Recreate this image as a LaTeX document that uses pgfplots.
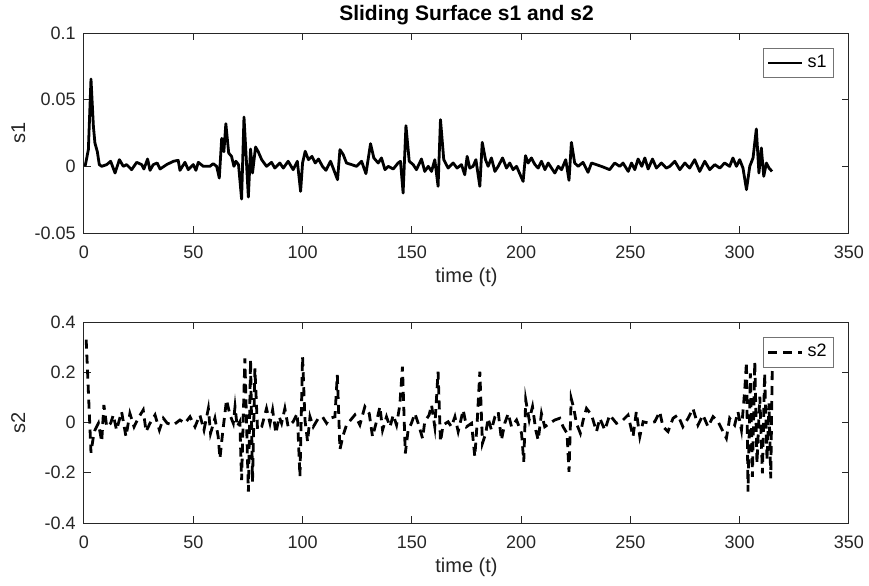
\documentclass[border=0pt]{standalone}
\usepackage{fontspec}
\setmainfont{Liberation Sans}
\usepackage{pgfplots}
\pgfplotsset{compat=1.18}
\definecolor{axgray}{RGB}{38,38,38}
\pgfplotsset{
 mystyle/.style={
  width=382.5pt, scale only axis,
  xmin=0, xmax=350,
  xtick={0,50,100,150,200,250,300,350},
  xticklabels={0,50,100,150,200,250,300,350},
  tick align=inside, major tick length=3.5pt,
  axis line style={axgray, line width=0.5pt},
  every tick/.style={axgray, line width=0.5pt},
  tick label style={font=\fontsize{9}{10}\selectfont, text=axgray},
  xticklabel style={anchor=base, yshift=-12.5pt, inner sep=0pt},
  yticklabel style={anchor=east, xshift=-4pt, inner sep=0pt},
  label style={font=\fontsize{10}{12}\selectfont, text=axgray},
  xlabel={time (t)},
  legend style={font=\fontsize{9}{10}\selectfont, draw=black!55, at={(1,1)}, anchor=north east, xshift=-7.5pt, yshift=-7.5pt, inner xsep=1.5pt, inner ysep=1.5pt, legend cell align=left},
  scaled ticks=false,
 }
}
\begin{document}
\begin{tikzpicture}
\path[use as bounding box] (-42pt,-176pt) rectangle (392.5pt,116.5pt);
\begin{axis}[mystyle, at={(0,0)}, anchor=south west, height=100pt,
  ymin=-0.05, ymax=0.1, ytick={-0.05,0,0.05,0.1}, yticklabels={-0.05,0,0.05,0.1},
  ylabel={s1}, title={Sliding Surface s1 and s2},
  title style={at={(axis description cs:0.5,1.005)}, anchor=base, font=\bfseries\fontsize{10.5}{12}\selectfont, inner sep=0pt},
  xlabel style={at={(axis description cs:0.5,-0.245)}, anchor=base},
  ylabel style={at={(axis description cs:-0.0771,0.5)}, anchor=base}]
\addplot[black, line width=1.4pt, line join=round] coordinates {
(0.5,0) (2,0.0125) (3.2,0.0655) (4.3,0.03) (5,0.0175) (6.1,0.011) (7,0.0013) (8.1,0)
(10.4,0.0013) (12.2,0.0038) (14.2,-0.005) (16.2,0.005) (18,0) (19.5,0.0013) (21.8,-0.0025)
(24.1,0.003) (26.4,0.0013) (27.4,-0.002) (29.1,0.0055) (30.2,-0.003) (31.7,0.0013) (33.5,0.0025)
(34.8,-0.002) (37.8,0.0013) (40.9,0.0038) (43.1,0.0045) (43.9,-0.003) (46.2,0.003) (47.7,-0.0025)
(50,0.0013) (51.2,-0.003) (52.3,0.003) (54.6,0) (57.6,0) (59.1,0.002) (60.7,0) (61.9,-0.0088)
(63,0.021) (64,0.011) (64.9,0.032) (66.2,0.01) (67.5,0.0075) (68.6,0) (69.5,0.0038) (70.7,0.0013)
(72.1,-0.0245) (73.2,0.037) (75.2,-0.023) (76.2,0.013) (77.1,-0.005) (78.5,0.0145) (79.7,0.011)
(81.3,0.005) (83.5,0) (85.8,0.003) (87.3,-0.0013) (89.6,0.0025) (91.2,-0.0013) (93.4,0.0038)
(95.7,-0.0025) (97.6,0.0038) (99.1,-0.0188) (100,0.0025) (101.2,0.0113) (102.7,0.005) (104.3,0.0075)
(105.8,0.0025) (107.3,0.0055) (109.1,0) (110.7,-0.003) (112.8,0.0038) (116,-0.01) (117.1,0.0125)
(118.6,0.0088) (120.1,0.0025) (122.4,0.0013) (124.7,0) (127,0.0038) (129,-0.0055) (131.1,0.017)
(132.6,0.0063) (134.6,0.0025) (136.1,0.0063) (137.7,-0.0025) (139.2,0) (141.5,-0.002) (143.7,0.0025)
(144.8,0.0038) (146,-0.02) (147.3,0.0305) (148.8,0.0038) (150.6,0.0013) (152.1,-0.0025) (154.4,0.0055)
(155.9,-0.0038) (157.5,0) (159,-0.0038) (160.5,0.005) (162,-0.015) (163.1,0.035) (164.6,0.005)
(166.6,-0.0013) (168.9,0.0025) (170.7,-0.0013) (172.7,0.0013) (174.2,-0.0063) (175.3,0.0075)
(176.5,-0.0013) (178,0) (179.3,0.005) (181.1,-0.015) (182.2,0.018) (183.7,0.005) (184.9,0)
(186.4,0.0063) (188,-0.0038) (189.5,0) (191.5,0.0063) (193.3,-0.0013) (194.8,0.0025) (196.3,-0.0025)
(197.9,0) (200.9,-0.0113) (202,0.008) (203.2,0.0025) (204.7,0.0063) (206.3,0.0013) (207.8,-0.0013)
(209.3,0.0038) (210.9,-0.0025) (212.4,0.0025) (213.9,-0.0013) (215.4,-0.005) (217,0) (218.5,-0.0025)
(220.4,0.005) (221.9,-0.0105) (223,0.018) (224.5,0.0025) (226.1,0) (228.3,0.003) (230.6,-0.0045)
(232.2,0.0025) (234.4,0.0013) (237.5,-0.0005) (240.5,-0.0025) (242.8,0.0025) (245.1,0) (246.6,0.0025)
(249,-0.0038) (250.5,0.0025) (252,-0.0025) (253.5,0.0055) (255.2,0) (256.6,0.0063) (258.1,-0.002)
(260.1,0.0055) (261.9,-0.0013) (264.2,0.0025) (266.4,-0.0013) (268,0) (270.3,0.0038) (272.6,-0.0025)
(274.9,0.0025) (277.1,-0.0013) (279.4,0.005) (281.7,-0.0038) (284,0.0038) (286.3,-0.0025) (288.6,0.0013)
(290.9,-0.0013) (293.1,0.0025) (295.4,0) (296.9,0.0063) (298.5,0) (300,0.005) (301.5,-0.0013)
(303.1,-0.0175) (304.6,0) (306.1,0.0063) (307.6,0.028) (308.8,-0.005) (309.9,0.0138) (311,-0.0075)
(312.2,0.0025) (313.4,-0.0013) (314.8,-0.0038)
};
\addlegendentry{s1}
\end{axis}
\begin{axis}[mystyle, at={(0,-145pt)}, anchor=south west, height=100.5pt,
  ymin=-0.4, ymax=0.4, ytick={-0.4,-0.2,0,0.2,0.4}, yticklabels={-0.4,-0.2,0,0.2,0.4},
  ylabel={s2},
  xlabel style={at={(axis description cs:0.5,-0.2438)}, anchor=base},
  ylabel style={at={(axis description cs:-0.0771,0.5)}, anchor=base}]
\addplot[black, line width=1.4pt, dash pattern=on 4.5pt off 3pt] coordinates {
(1,0.33) (3.2,-0.12) (4.3,-0.056) (5,-0.03) (6.6,-0.003) (8.1,-0.076) (9.1,0.07) (10.4,-0.017)
(12.2,-0.003) (13.4,0.03) (14.9,-0.03) (17.2,0.043) (19.2,-0.056) (21,0.036) (22.9,-0.017) (24.8,0.017)
(27.1,0.05) (28.4,-0.036) (30.2,-0.003) (32.5,0.03) (34.5,-0.03) (36.3,0.017) (38.1,-0.003) (40.9,-0.01)
(43.9,0.01) (46.2,-0.003) (48.5,0.023) (50.8,-0.017) (53,0.03) (54.9,-0.03) (56.9,0.056) (57.9,-0.043)
(59.9,0.017) (61.4,-0.056) (62.2,-0.143) (63.4,-0.043) (65.2,0.09) (66.8,0.03) (68.3,-0.003) (69.1,0.063)
(70.1,-0.017) (71.3,0.003) (72.1,-0.229) (73.6,0.255) (75.2,-0.275) (76.2,0.249) (77.1,-0.235) (78.2,0.215)
(79.4,-0.03) (81.3,-0.017) (83.5,0.056) (85.1,-0.003) (86.3,0.05) (87.8,-0.043) (89.3,0.023) (90.4,-0.003)
(91.9,0.056) (93.4,-0.017) (95.7,0.003) (97.6,0.036) (98.8,-0.216) (100,0.262) (101.1,0.01) (102.3,-0.076)
(103.4,0.023) (104.9,-0.017) (107.2,0.017) (109.1,0.023) (111,-0.003) (112.5,0.017) (114.8,0.023)
(115.9,0.189) (117.1,-0.107) (118.6,-0.05) (120.1,-0.01) (122,0.01) (123.9,0.03) (126.2,-0.01)
(128.5,0.063) (130.5,0.036) (132,-0.056) (133.8,0.003) (135.4,0.063) (136.6,-0.03) (138.4,0.023)
(140,-0.017) (141.5,0.03) (143,-0.01) (144.5,0.07) (145.7,0.222) (147,-0.123) (148.3,-0.03) (149.8,-0.003)
(151.4,0.036) (152.9,-0.003) (154.9,-0.063) (155.9,0.003) (157.9,0.03) (159,0.07) (160.5,-0.017)
(162,0.202) (163.1,-0.076) (164.3,-0.01) (166.6,0.003) (168.1,-0.017) (169.7,0.023) (171.2,-0.036)
(173.5,0.05) (175,-0.017) (177.3,-0.003) (178.8,-0.136) (179.9,0.003) (181.1,0.202) (182.3,-0.083)
(183.8,-0.043) (184.9,0.017) (186.4,-0.03) (188,0.023) (189.5,0.043) (191,-0.07) (192.5,-0.003)
(194.1,0.036) (195.6,-0.017) (197.9,0.01) (200.2,-0.043) (201.2,-0.156) (202.1,0.09) (203.7,0.01)
(205.2,0.063) (206.7,-0.03) (207.8,-0.07) (209.3,0.036) (210.8,-0.017) (213.1,-0.003) (215.4,0.01)
(217.7,0.017) (219.2,-0.017) (221,-0.043) (221.9,-0.196) (222.9,0.096) (224.1,0.056) (225.3,-0.003)
(227.1,-0.043) (228.4,0.01) (229.9,0.056) (232.2,0.03) (234.5,-0.036) (236,0.017) (238.3,-0.03)
(240.5,0.03) (243.6,-0.003) (246.6,0.01) (248.9,0.03) (251.2,-0.056) (252.7,0.043) (254.3,-0.056)
(255.8,0.003) (258.8,-0.003) (261.1,0.003) (263.4,0.043) (264.9,-0.017) (267.2,-0.036) (269.5,0.017)
(271.7,0.03) (274,-0.017) (276.4,0.017) (278.6,0.056) (280.9,-0.01) (283.2,0.03) (285.5,-0.017)
(287.8,0.023) (290.1,0.003) (291.6,-0.023) (293.9,-0.063) (295.4,0.017) (297.7,-0.01) (299.2,0.043)
(300.8,-0.03) (302.3,0.129) (303.1,0.242) (303.8,-0.275) (304.9,0.196) (305.8,-0.216) (306.9,0.242)
(307.9,-0.162) (309.2,0.103) (310.4,-0.202) (311.4,0.196) (312.5,-0.149) (313.4,0.076) (314.2,-0.222)
(314.9,0.222)
};
\addlegendentry{s2}
\end{axis}
\end{tikzpicture}
\end{document}
